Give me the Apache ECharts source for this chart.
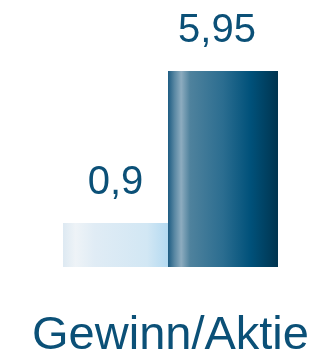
<!DOCTYPE html>
<html><head><meta charset="utf-8">
<script src="https://cdn.jsdelivr.net/npm/echarts@6/dist/echarts.min.js"></script>
<style>html,body{margin:0;padding:0;background:#fff}#c{width:315px;height:358px}</style>
</head><body><div id="c"></div>
<script>
const categories = ['Gewinn/Aktie'];
const seriesA = [0.9];
const seriesB = [5.95];
const labelsA = ['0,9'];
const labelsB = ['5,95'];
const yMin = -0.56;
const yMax = 5.95;

const textColor = '#0b5077';
const font = '"Liberation Sans", Arial, sans-serif';

const gradA = new echarts.graphic.LinearGradient(0,0,1,0,[
  {offset:0, color:'#dde9f2'},{offset:0.12, color:'#eef3f7'},{offset:0.3, color:'#e0ecf5'},
  {offset:0.8, color:'#d2e7f4'},{offset:1, color:'#b4daf1'}]);
const gradB = new echarts.graphic.LinearGradient(0,0,1,0,[
  {offset:0, color:'#1d5c82'},{offset:0.06, color:'#5a88a3'},{offset:0.12, color:'#8dacbf'},
  {offset:0.2, color:'#4f829d'},{offset:0.5, color:'#2b6d90'},{offset:0.75, color:'#00517a'},
  {offset:1, color:'#00344f'}]);

function barRenderer(xOff, width, fill, labels, labelDx) {
  return function (params, api) {
    const ci = api.value(0);
    const top = api.coord([ci, api.value(1)]);
    const base = api.coord([ci, yMin]);
    const x = top[0] + xOff;
    return {
      type: 'group',
      children: [
        {type: 'rect', shape: {x: x, y: top[1], width: width, height: base[1] - top[1]},
         style: {fill: fill}},
        {type: 'text', x: x + width / 2 + labelDx, y: top[1] - 20,
         style: {text: labels[params.dataIndex], fill: textColor, font: '40px ' + font,
                 align: 'center', verticalAlign: 'bottom'}}
      ]
    };
  };
}

const chart = echarts.init(document.getElementById('c'));
chart.setOption({
  animation: false,
  grid: {left: 63, right: 37, top: 71, bottom: 91, containLabel: false, outerBoundsMode: 'none'},
  xAxis: {
    type: 'category', data: categories,
    axisLine: {show: false}, axisTick: {show: false},
    axisLabel: {fontSize: 47, color: textColor, fontFamily: font, margin: 46}
  },
  yAxis: {type: 'value', min: yMin, max: yMax, show: false, splitLine: {show: false}},
  series: [
    {type: 'custom', data: seriesA.map((v, i) => [i, v]), encode: {x: 0, y: 1},
     renderItem: barRenderer(-107.5, 105, gradA, labelsA, 0)},
    {type: 'custom', data: seriesB.map((v, i) => [i, v]), encode: {x: 0, y: 1},
     renderItem: barRenderer(-2.5, 110, gradB, labelsB, -6)}
  ]
});
</script></body></html>
